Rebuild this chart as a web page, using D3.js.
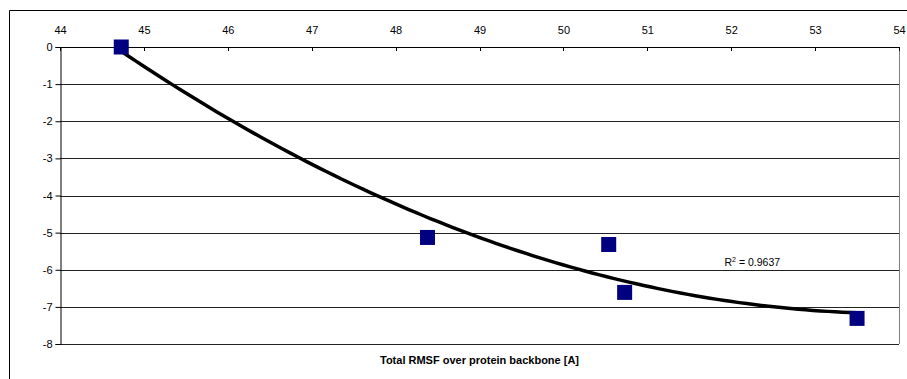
<!DOCTYPE html>
<html>
<head>
<meta charset="utf-8">
<script src="https://cdn.jsdelivr.net/npm/d3@7"></script>
<style>
  body { margin: 0; background: #fff; }
  text { font-family: "Liberation Sans", Arial, sans-serif; }
</style>
</head>
<body>
<svg class="chart"></svg>
<script>
// data
var rmsf = [44.73, 48.38, 50.54, 50.73, 53.50];
var energy = [0.0, -5.13, -5.32, -6.61, -7.31];
var xTicks = [44, 45, 46, 47, 48, 49, 50, 51, 52, 53, 54];
var yTicks = [0, -1, -2, -3, -4, -5, -6, -7, -8];
var rSquaredLabel = '0.9637';
var xTitle = 'Total RMSF over protein backbone [A]';

var W = 907, H = 379;
var margin = { top: 47, right: 8, bottom: 35, left: 60 };
var width = W - margin.left - margin.right;
var height = H - margin.top - margin.bottom;

var svg = d3.select('.chart').attr('width', W).attr('height', H);

// outer chart frame (only top + left visible)
svg.append('path')
  .attr('d', 'M9.5,' + H + 'V10.5H' + W)
  .attr('fill', 'none').attr('stroke', '#000').attr('stroke-width', 1);

var chart = svg.append('g')
  .attr('transform', 'translate(' + margin.left + ',' + margin.top + ')');

var x = d3.scaleLinear().domain([44, 54]).range([0, width]);
var y = d3.scaleLinear().domain([0, -8]).range([0, height]);

// gridlines
chart.selectAll('.grid')
  .data(yTicks.slice(1))
  .enter().append('line')
  .attr('class', 'grid')
  .attr('x1', 0).attr('x2', width)
  .attr('y1', d => Math.round(y(d)) + 0.5).attr('y2', d => Math.round(y(d)) + 0.5)
  .attr('stroke', '#222').attr('stroke-width', 1);

// right border of plot
chart.append('line')
  .attr('x1', width + 0.5).attr('x2', width + 0.5)
  .attr('y1', 0).attr('y2', height)
  .attr('stroke', '#808080');

//X axis on top
var xAxis = d3.axisTop(x).tickValues(xTicks).tickSize(0).tickPadding(13);
var gx = chart.append('g').attr('class', 'x axis').call(xAxis);
gx.select('.domain').remove();
gx.selectAll('text').attr('font-size', 11).attr('fill', '#000');
chart.selectAll('.xtick')
  .data(xTicks)
  .enter().append('line')
  .attr('x1', d => Math.round(x(d)) + 0.5).attr('x2', d => Math.round(x(d)) + 0.5)
  .attr('y1', 0).attr('y2', 4)
  .attr('stroke', '#000');
chart.append('line')
  .attr('x1', 0).attr('x2', width + 1)
  .attr('y1', 0.5).attr('y2', 0.5)
  .attr('stroke', '#000');

//Y axis
var yAxis = d3.axisLeft(y).tickValues(yTicks).tickSize(5).tickPadding(3).tickFormat(d => String(d));
var gy = chart.append('g').attr('class', 'y axis')
  .attr('transform', 'translate(0.5,0)')
  .call(yAxis);
gy.select('.domain').attr('stroke', '#000');
gy.selectAll('text').attr('font-size', 11).attr('fill', '#000');

// polynomial (order 2) trendline, least squares
var S = [0, 0, 0, 0, 0], T = [0, 0, 0];
rmsf.forEach((xv, i) => {
  var p = 1;
  for (var k = 0; k < 5; k++) { S[k] += p; if (k < 3) T[k] += p * energy[i]; p *= xv; }
});
var A = [[S[0], S[1], S[2], T[0]], [S[1], S[2], S[3], T[1]], [S[2], S[3], S[4], T[2]]];
for (var c = 0; c < 3; c++) {
  for (var r = c + 1; r < 3; r++) {
    var f = A[r][c] / A[c][c];
    for (var k = c; k < 4; k++) A[r][k] -= f * A[c][k];
  }
}
var coef = [0, 0, 0];
for (var r = 2; r >= 0; r--) {
  var s = A[r][3];
  for (var k = r + 1; k < 3; k++) s -= A[r][k] * coef[k];
  coef[r] = s / A[r][r];
}
var fit = xv => coef[0] + coef[1] * xv + coef[2] * xv * xv;
var x0 = d3.min(rmsf), x1 = d3.max(rmsf);
var curve = d3.range(0, 101).map(i => x0 + (x1 - x0) * i / 100);

chart.append('path')
  .datum(curve)
  .attr('d', d3.line().x(d => x(d)).y(d => y(fit(d))))
  .attr('fill', 'none')
  .attr('stroke', '#000')
  .attr('stroke-width', 3.5);

// markers
chart.selectAll('.pt')
  .data(rmsf)
  .enter().append('rect')
  .attr('class', 'pt')
  .attr('x', (d, i) => x(d) - 7.5)
  .attr('y', (d, i) => y(energy[i]) - 7.5)
  .attr('width', 15).attr('height', 15)
  .attr('fill', '#000080');

// R^2 label
var rl = chart.append('text')
  .attr('x', x(51.92)).attr('y', y(-5.9))
  .attr('font-size', 10.5).attr('fill', '#000');
rl.append('tspan').text('R');
rl.append('tspan').attr('font-size', 7).attr('dy', -4).text('2');
rl.append('tspan').attr('dy', 4).text(' = ' + rSquaredLabel);

// x axis title
svg.append('text')
  .attr('x', margin.left + width / 2)
  .attr('y', 364)
  .attr('text-anchor', 'middle')
  .attr('font-size', 11)
  .attr('font-weight', 'bold')
  .text(xTitle);
</script>
</body>
</html>
